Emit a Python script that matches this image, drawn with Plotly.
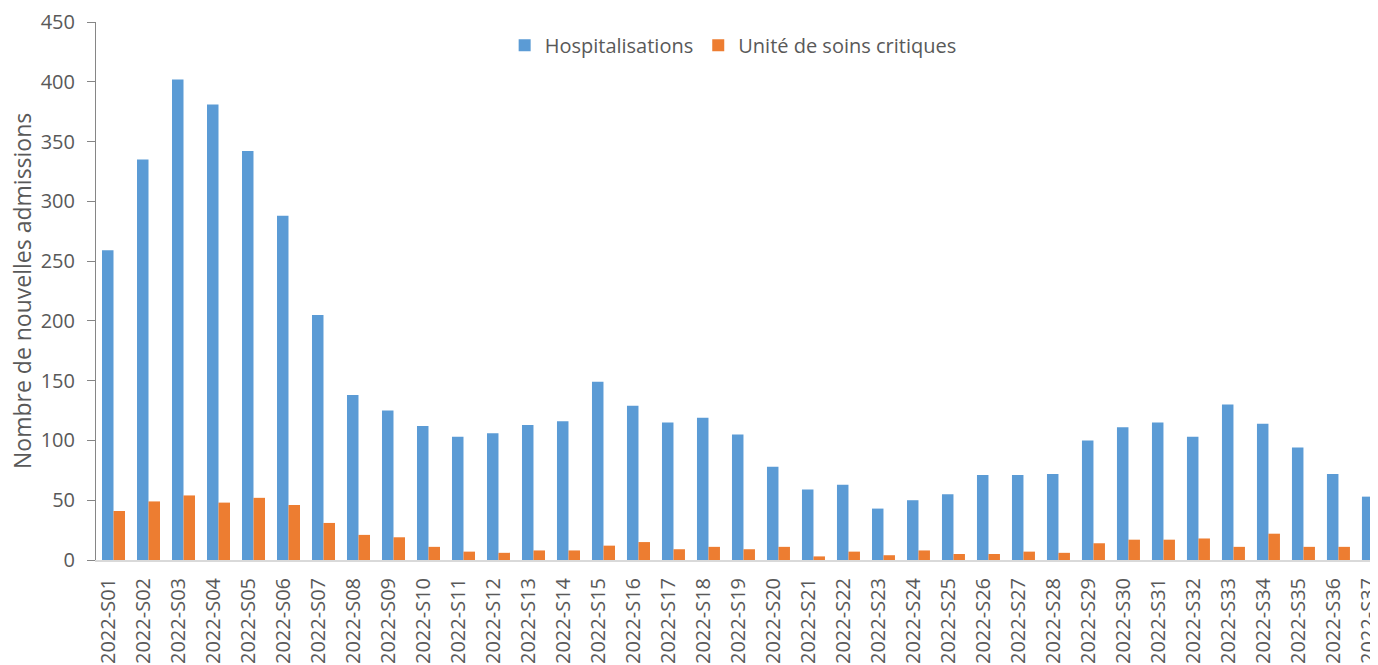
import plotly.graph_objects as go

weeks = [f"2022-S{i:02d}" for i in range(1, 38)]
hospitalisations = [259, 335, 402, 381, 342, 288, 205, 138, 125, 112, 103, 106, 113, 116,
                    149, 129, 115, 119, 105, 78, 59, 63, 43, 50, 55, 71, 71, 72, 100, 111,
                    115, 103, 130, 114, 94, 72, 53]
soins_critiques = [41, 49, 54, 48, 52, 46, 31, 21, 19, 11, 7, 6, 8, 8, 12, 15, 9, 11, 9, 11,
                   3, 7, 4, 8, 5, 5, 7, 6, 14, 17, 17, 18, 11, 22, 11, 11, 11]
y_ticks = [0, 50, 100, 150, 200, 250, 300, 350, 400, 450]
y_title = "Nombre de nouvelles admissions"

FONT = "Open Sans"
TXT = "#595959"

fig = go.Figure()
fig.add_trace(go.Bar(x=weeks, y=hospitalisations, name="Hospitalisations",
                     marker=dict(color="#5B9BD5", line=dict(width=0))))
fig.add_trace(go.Bar(x=weeks, y=soins_critiques, name="Unité de soins critiques",
                     marker=dict(color="#ED7D31", line=dict(width=0))))

# page body has an 8px margin, so the figure is sized/offset to fit the window
fig.update_layout(
    width=1370, height=657,
    margin=dict(l=88, r=0, t=14, b=105, autoexpand=False),
    plot_bgcolor="white", paper_bgcolor="white",
    barmode="group", bargap=0.343, bargroupgap=0,
    font=dict(family=FONT, size=20, color=TXT),
    showlegend=True,
    legend=dict(orientation="h", x=0.497, xanchor="center", y=0.957, yanchor="middle",
                font=dict(family=FONT, size=20, color=TXT), itemwidth=30,
                traceorder="normal", bgcolor="rgba(0,0,0,0)"),
    xaxis=dict(range=[-0.5, 36.13], showline=True, linecolor="#d9d9d9", linewidth=2,
               ticks="", tickangle=-90, tickfont=dict(family=FONT, size=20, color=TXT),
               showgrid=False, zeroline=False, ticklabelstandoff=8, ticklabelshift=-5,
               automargin=False, fixedrange=True),
    yaxis=dict(range=[0, 450], tickvals=y_ticks, showline=True, linecolor="#868686",
               linewidth=1, ticks="outside", ticklen=8, tickcolor="#868686",
               tickfont=dict(family=FONT, size=20, color=TXT), showgrid=False,
               zeroline=False, ticklabelstandoff=8, automargin=False),
    annotations=[dict(text=y_title, xref="paper", yref="paper", x=0, y=0.5,
                      xanchor="center", yanchor="middle", xshift=-74, textangle=-90,
                      showarrow=False, font=dict(family=FONT, size=23, color=TXT))],
)

fig.write_html("out.html")
